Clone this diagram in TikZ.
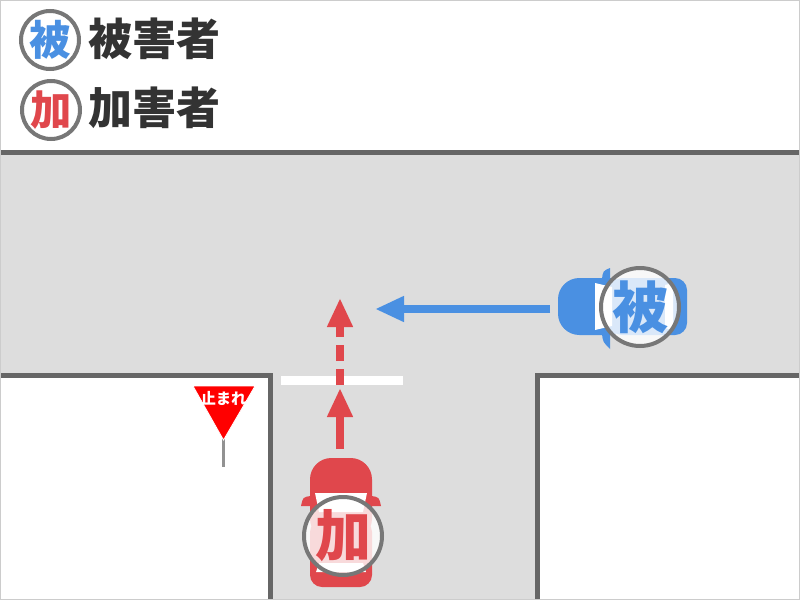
\documentclass[tikz,border=0pt]{standalone}
\usepackage{fontspec}
\usepackage{tikz}
\usetikzlibrary{arrows.meta}
\newfontfamily\cjk{Noto Sans CJK JP}
\definecolor{roadgray}{HTML}{DDDDDD}
\definecolor{edgegray}{HTML}{666666}
\definecolor{ringgray}{HTML}{777777}
\definecolor{victimblue}{HTML}{4A90E2}
\definecolor{injurerred}{HTML}{E0474C}
\definecolor{signred}{HTML}{FF0000}
\definecolor{textdark}{HTML}{333333}

\begin{document}
\begin{tikzpicture}[x=0.75pt,y=-0.75pt,>={Triangle[width=18pt,length=21.75pt]}]
\tikzstyle{ring}=[circle,draw=ringgray,line width=3pt,fill=white,inner sep=0pt,font=\cjk]
\tikzstyle{legend}=[ring,minimum size=43.5pt,font=\cjk\bfseries\fontsize{31}{31}\selectfont]
\tikzstyle{badge}=[ring,minimum size=58.5pt,fill opacity=0.8,text opacity=1,font=\cjk\bfseries\fontsize{42}{42}\selectfont]
\tikzstyle{label}=[anchor=west,inner sep=0pt,text=textdark,font=\cjk\bfseries\fontsize{33}{33}\selectfont]
\tikzstyle{kerb}=[edgegray,line width=3.75pt]
\tikzstyle{move}=[line width=6pt]
\useasboundingbox (0,0) rectangle (800,600);
% road
\fill[roadgray] (0,152) rectangle (800,375);
\fill[roadgray] (270,370) rectangle (537,600);
\draw[kerb] (0,152.5) -- (800,152.5);
\draw[kerb] (0,375) -- (270,375) -- (270,600);
\draw[kerb] (800,375) -- (537,375) -- (537,600);
\fill[white] (281,376) rectangle (403,385);
% legend
\node[legend,text=victimblue] (v) at (50,40) {被};
\node[label] (vl) at (88,39) {被害者};
\node[legend,text=injurerred] (i) at (51,110) {加};
\node[label] (il) at (88,108) {加害者};
% stop sign
\fill[ringgray!80] (221.5,438) rectangle (225,467);
\fill[signred,draw=white,line width=0.6pt] (193,386) -- (255,386) -- (223.5,440) -- cycle;
\node[text=white,font=\cjk\bfseries\fontsize{11.5}{11.5}\selectfont,inner sep=0pt] (stop) at (223.5,398) {止まれ};
% injurer car
\fill[injurerred,rounded corners=16pt] (310,458) rectangle (372,540);
\fill[injurerred,rounded corners=9pt] (310,520) rectangle (372,587);
\fill[injurerred] (311,496) .. controls (303,497) .. (301,506) -- (311,506) -- cycle;
\fill[injurerred] (371,496) .. controls (379,497) .. (381,506) -- (371,506) -- cycle;
\fill[white] (315,493) -- (367,493) -- (363,512) -- (319,512) -- cycle;
\fill[white] (319,563) -- (363,563) -- (366,572) -- (316,572) -- cycle;
\node[badge,text=injurerred] (icar) at (343,536) {加};
% victim car
\fill[victimblue,rounded corners=16pt] (558,278) rectangle (630,335);
\fill[victimblue,rounded corners=9pt] (610,278) rectangle (687,335);
\fill[victimblue] (602,279) .. controls (603,271) .. (610,268) -- (610,279) -- cycle;
\fill[victimblue] (602,334) .. controls (603,342) .. (610,349) -- (610,334) -- cycle;
\fill[white] (595,283) -- (612,287) -- (612,326) -- (595,330) -- cycle;
\fill[white] (665,285) -- (673,283) -- (673,330) -- (665,328) -- cycle;
\node[badge,text=victimblue] (vcar) at (640,307) {被};
% paths
\coordinate (i0) at (340,449);
\coordinate (i1) at (340,388);
\coordinate (i2) at (340,385);
\coordinate (i3) at (340,298);
\coordinate (v0) at (550,309);
\coordinate (v1) at (375,309);
\draw[->,move,injurerred] (i0) -- (i1);
\draw[->,move,injurerred,dash pattern=on 12pt off 6pt] (i2) -- (i3);
\draw[->,move,victimblue] (v0) -- (v1);
\draw[black!20,line width=1pt] (0,0) rectangle (800,600);
\end{tikzpicture}
\end{document}
